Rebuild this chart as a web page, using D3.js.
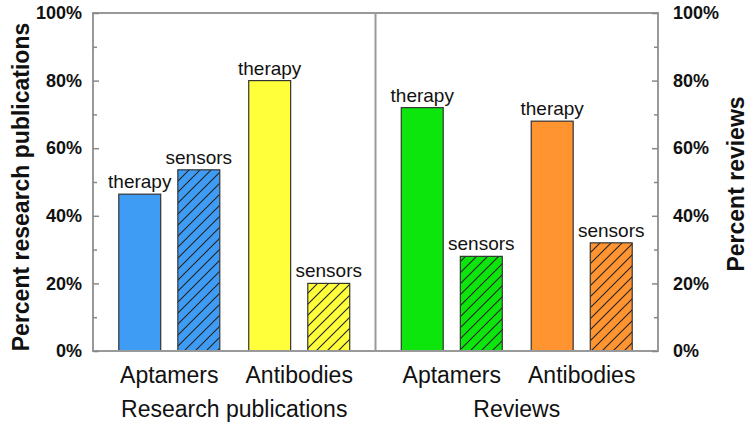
<!DOCTYPE html>
<html>
<head>
<meta charset="utf-8">
<script src="https://cdn.jsdelivr.net/npm/d3@7"></script>
<style>
  body { margin: 0; background: #fff; }
  text { font-family: "Liberation Sans", Arial, sans-serif; fill: #111; }
</style>
</head>
<body>
<div id="chart"></div>
<script>
// data
var panels = ["Research publications", "Reviews"]
var groups = ["Aptamers", "Antibodies"]
var kinds = ["therapy", "sensors"]
var researchValues = [46.4, 53.6, 80, 20]   // aptamer therapy, aptamer sensors, antibody therapy, antibody sensors
var reviewValues = [72, 28, 68, 32]
var yTicks = [0, 20, 40, 60, 80, 100]
var yMinor = [10, 30, 50, 70, 90]

var width = 750, height = 428
var margin = {top: 13, right: 92, bottom: 77, left: 93}
var innerW = width - margin.left - margin.right
var innerH = height - margin.top - margin.bottom

// colours per panel/group
var color = d3.scaleOrdinal()
  .domain(["Research publications|Aptamers", "Research publications|Antibodies", "Reviews|Aptamers", "Reviews|Antibodies"])
  .range(["#3f9cf4", "#ffff3a", "#0de60d", "#ff9430"])

// build rows from the arrays
var rows = []
panels.forEach(function(p, pi) {
  var vals = pi == 0 ? researchValues : reviewValues
  groups.forEach(function(g, gi) {
    kinds.forEach(function(k, ki) {
      rows.push({panel: p, group: g, kind: k, value: vals[gi * 2 + ki]})
    })
  })
})

var svg = d3.select("#chart").append("svg")
    .attr("width", width)
    .attr("height", height)

var defs = svg.append("defs")
color.domain().forEach(function(key, i) {
  var pat = defs.append("pattern")
      .attr("id", "hatch" + i)
      .attr("patternUnits", "userSpaceOnUse")
      .attr("width", 11)
      .attr("height", 11)
  pat.append("rect").attr("width", 11).attr("height", 11).attr("fill", color(key))
  pat.append("path")
      .attr("d", "M0,11 L11,0 M-3,3 L3,-3 M8,14 L14,8")
      .attr("stroke", "#222")
      .attr("stroke-width", 1.1)
})

var g = svg.append("g")
    .attr("transform", "translate(" + margin.left + "," + margin.top + ")")

var y = d3.scaleLinear().domain([0, 100]).range([innerH, 0])

var xPanel = d3.scaleBand().domain(panels).range([0, innerW])
var xGroup = d3.scalePoint().domain(groups).range([0, xPanel.bandwidth()]).padding(0.587)
var xKind = d3.scaleBand().domain(kinds).range([-50.5, 50.5]).paddingInner(0.29)

function barX(d) { return xPanel(d.panel) + xGroup(d.group) + xKind(d.kind) }

// bars
g.selectAll(".bar")
  .data(rows)
  .enter()
  .append("rect")
    .attr("class", "bar")
    .attr("x", barX)
    .attr("y", function(d) { return y(d.value) })
    .attr("width", xKind.bandwidth())
    .attr("height", function(d) { return innerH - y(d.value) })
    .attr("fill", function(d) {
      var key = d.panel + "|" + d.group
      if (d.kind == "sensors") return "url(#hatch" + color.domain().indexOf(key) + ")"
      return color(key)
    })
    .attr("stroke", "#333")
    .attr("stroke-width", 1.2)

// bar labels
g.selectAll(".blabel")
  .data(rows)
  .enter()
  .append("text")
    .attr("x", function(d) { return barX(d) + xKind.bandwidth() / 2 })
    .attr("y", function(d) { return y(d.value) - 6 })
    .attr("text-anchor", "middle")
    .style("font-size", "19px")
    .text(function(d) { return d.kind })

// frame and divider
g.append("rect")
    .attr("width", innerW)
    .attr("height", innerH)
    .attr("fill", "none")
    .attr("stroke", "#999")
    .attr("stroke-width", 2)
g.append("line")
    .attr("x1", xPanel("Reviews")).attr("x2", xPanel("Reviews"))
    .attr("y1", 0).attr("y2", innerH)
    .attr("stroke", "#999")
    .attr("stroke-width", 2)

// axes, ticks pointing inward
var fmt = function(d) { return d + "%" }
var left = g.append("g")
    .call(d3.axisLeft(y).tickValues(yTicks).tickFormat(fmt).tickSizeInner(-6).tickSizeOuter(0).tickPadding(11))
var leftMinor = g.append("g")
    .call(d3.axisLeft(y).tickValues(yMinor).tickFormat("").tickSizeInner(-4).tickSizeOuter(0))
var right = g.append("g")
    .attr("transform", "translate(" + innerW + ",0)")
    .call(d3.axisRight(y).tickValues(yTicks).tickFormat(fmt).tickSizeInner(-6).tickSizeOuter(0).tickPadding(15))
var rightMinor = g.append("g")
    .attr("transform", "translate(" + innerW + ",0)")
    .call(d3.axisRight(y).tickValues(yMinor).tickFormat("").tickSizeInner(-4).tickSizeOuter(0))

;[left, leftMinor, right, rightMinor].forEach(function(a) {
  a.select(".domain").remove()
  a.selectAll("line").attr("stroke", "#888").attr("stroke-width", 1.5)
  a.selectAll("text")
    .style("font-family", "'Liberation Sans', Arial, sans-serif")
    .style("font-size", "18px")
    .style("font-weight", "bold")
    .attr("fill", "#111")
})

// group labels under the axis
var groupLabels = []
panels.forEach(function(p) { groups.forEach(function(gr) { groupLabels.push({panel: p, group: gr}) }) })
g.selectAll(".glabel")
  .data(groupLabels)
  .enter()
  .append("text")
    .attr("x", function(d) { return xPanel(d.panel) + xGroup(d.group) })
    .attr("y", innerH + 32)
    .attr("text-anchor", "middle")
    .style("font-size", "23px")
    .text(function(d) { return d.group })

// panel titles
g.selectAll(".ptitle")
  .data(panels)
  .enter()
  .append("text")
    .attr("x", function(d) { return xPanel(d) + xPanel.bandwidth() / 2 })
    .attr("y", innerH + 66)
    .attr("text-anchor", "middle")
    .style("font-size", "23px")
    .text(function(d) { return d })

// y titles
svg.append("text")
    .attr("transform", "translate(29," + 187 + ") rotate(-90)")
    .attr("text-anchor", "middle")
    .style("font-size", "23px")
    .style("font-weight", "bold")
    .text("Percent research publications")
svg.append("text")
    .attr("transform", "translate(744," + 184 + ") rotate(-90)")
    .attr("text-anchor", "middle")
    .style("font-size", "23px")
    .style("font-weight", "bold")
    .text("Percent reviews")
</script>
</body>
</html>
